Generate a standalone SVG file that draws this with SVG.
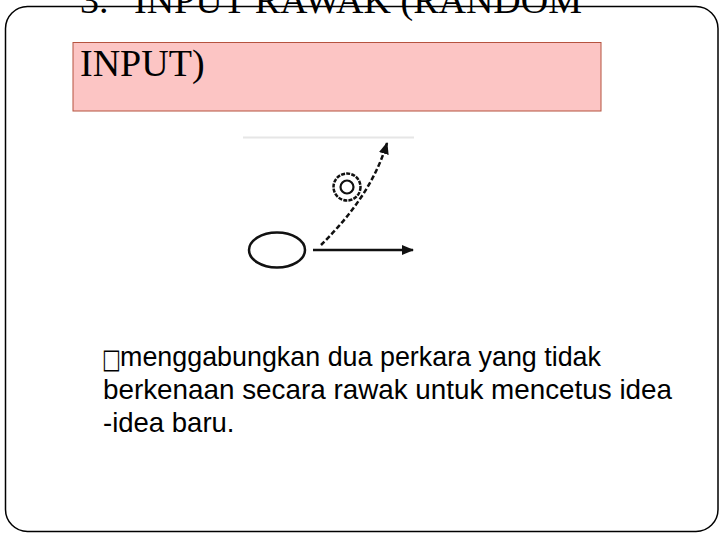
<svg xmlns="http://www.w3.org/2000/svg" width="720" height="540" viewBox="0 0 720 540">
<style>
.title{font-family:"Liberation Serif","Times New Roman",serif;font-size:38px;fill:#000}
.body{font-family:"Liberation Sans",Arial,sans-serif;font-size:27.5px;fill:#000}
.ln{fill:none;stroke:#111;stroke-width:2.5}
</style>
<defs>
<marker id="ah" viewBox="0 0 12 10" refX="11" refY="5" markerWidth="12" markerHeight="10" markerUnits="userSpaceOnUse" orient="auto">
<path d="M0,0 L12,5 L0,10 z" fill="#111"/>
</marker>
</defs>
<rect width="720" height="540" fill="#fff"/>
<rect id="frame" x="5.5" y="6.5" width="712.5" height="525" rx="22" ry="22" fill="none" stroke="#000" stroke-width="1.5"/>
<g id="title">
<rect x="73" y="42.5" width="528" height="68.5" fill="#fcc5c4" stroke="#b5533f" stroke-width="1"/>
<text class="title" x="80" y="13">3.</text>
<text class="title" x="134" y="13">INPUT RAWAK (RANDOM</text>
<text class="title" x="80" y="76">INPUT)</text>
</g>
<g id="figure">
<line x1="243" y1="137.5" x2="414" y2="137.5" stroke="#e6e6e6" stroke-width="2"/>
<g id="ellipse"><ellipse cx="277" cy="250" rx="28" ry="17.5" class="ln"/></g>
<g id="target"><circle cx="347" cy="187" r="13.5" fill="none" stroke="#111" stroke-width="2.5" stroke-dasharray="4 1.2"/><circle cx="347" cy="187" r="6.5" fill="none" stroke="#111" stroke-width="2.2"/></g>
<g id="connectors">
<line x1="313" y1="250" x2="413" y2="250" class="ln" marker-end="url(#ah)"/>
<path d="M321,245 C342,224 373,190 387,143" class="ln" stroke-dasharray="5 2.5" marker-end="url(#ah)"/>
</g>
</g>
<g id="text">
<text transform="translate(102,368) scale(1,1.35)" font-family="DejaVu Sans,sans-serif" font-size="20" fill="#000">□</text>
<text class="body" x="120" y="366" textLength="481" lengthAdjust="spacingAndGlyphs">menggabungkan dua perkara yang tidak</text>
<text class="body" x="103" y="399" textLength="569" lengthAdjust="spacingAndGlyphs">berkenaan secara rawak untuk mencetus idea</text>
<text class="body" x="103" y="432">-idea baru.</text>
</g>
</svg>
